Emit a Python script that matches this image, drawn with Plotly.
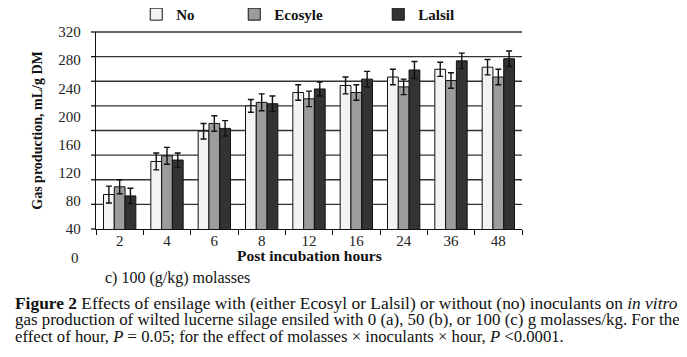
import plotly.graph_objects as go

hours = ["2", "4", "6", "8", "12", "16", "24", "36", "48"]
no_vals = [89, 136, 179, 215, 234, 244, 256, 267, 270]
no_err = [12, 12, 11, 9, 11, 12, 11, 10, 11]
eco_vals = [100, 144, 190, 220, 225, 234, 242, 251, 256]
eco_err = [10, 12, 11, 12, 11, 11, 11, 11, 11]
lal_vals = [87, 138, 183, 218, 239, 253, 266, 279, 282]
lal_err = [11, 10, 11, 11, 10, 11, 12, 11, 11]
series_names = ["No", "Ecosyle", "Lalsil"]
y_ticks = [40, 80, 120, 160, 200, 240, 280, 320]

FONT = "Liberation Serif"
OFF = 8  # page body margin of the browser
W, H = 687 - OFF, 357 - OFF
L, R, T, B = 95.7, 522.3, 31.7, 229.3   # plot area in reference pixels

def px(x):
    return (x - L) / (R - L)

def py(y):
    return (B - y) / (B - T)

colors = ["#f3f3f3", "#9c9c9c", "#333333"]
vals = [no_vals, eco_vals, lal_vals]
errs = [no_err, eco_err, lal_err]
lw = [53, 99, 60]

fig = go.Figure()
for name, v, e, c, w in zip(series_names, vals, errs, colors, lw):
    fig.add_trace(go.Bar(
        x=hours, y=v, name=name,
        marker=dict(color=c, line=dict(color="#111", width=1)),
        error_y=dict(type="data", array=e, visible=True, color="#111",
                     thickness=1.4, width=3),
        legendwidth=w,
    ))

# horizontal grid: 8 evenly spaced lines over the plot height, with left ticks
n_grid = 8
for k in range(n_grid + 1):
    f = k / n_grid
    if k > 0:
        fig.add_shape(type="line", xref="x domain", yref="y domain",
                      x0=0, x1=1, y0=f, y1=f, layer="below",
                      line=dict(color="#333", width=1.3))
    fig.add_shape(type="line", xref="x domain", yref="y domain",
                  x0=-5 / (R - L), x1=0, y0=f, y1=f, layer="above",
                  line=dict(color="#111", width=1.3))

fig.update_layout(
    width=W, height=H,
    margin=dict(l=L - OFF, r=687 - R, t=T - OFF, b=357 - B, autoexpand=False),
    paper_bgcolor="white", plot_bgcolor="white",
    font=dict(family=FONT, color="#111"),
    barmode="group", bargap=0.317, bargroupgap=0,
    showlegend=True,
    legend=dict(orientation="h", x=px(136), xanchor="left",
                y=py(-2.5), yanchor="top", bgcolor="rgba(0,0,0,0)",
                font=dict(family=FONT, size=15, color="#111", weight="bold"),
                itemwidth=30, traceorder="normal"),
    xaxis=dict(type="category", showline=True, linecolor="#111", linewidth=1.3,
               ticks="outside", tickson="boundaries", ticklen=5, tickcolor="#111",
               tickfont=dict(family=FONT, size=15, color="#222"),
               ticklabelstandoff=-2,
               showgrid=False),
    yaxis=dict(range=[40, 320], tickvals=y_ticks, showgrid=False,
               zeroline=False, showline=True, linecolor="#111", linewidth=1.3,
               ticks="", ticklabelstandoff=11, fixedrange=True,
               tickfont=dict(family=FONT, size=15, color="#222"),
               title=dict(text="<b>Gas production, mL/g DM</b>",
                          font=dict(family=FONT, size=14, color="#111"),
                          standoff=12)),
)

annos = [
    dict(text="<b>Post incubation hours</b>", x=0.5, y=py(256), xanchor="center",
         yanchor="middle", font=dict(size=15.5, color="#111")),
    dict(text="0", x=px(75), y=py(258), xanchor="center", yanchor="middle",
         font=dict(size=15, color="#222")),
    dict(text="c) 100 (g/kg) molasses", x=px(103), y=py(278), xanchor="left",
         yanchor="middle", font=dict(size=16, color="#111")),
    dict(text="<b>Figure 2</b> Effects of ensilage with (either Ecosyl or Lalsil) or without (no) inoculants on <i>in vitro</i>",
         x=px(12.7), y=py(303.3), xanchor="left", yanchor="middle",
         font=dict(size=17.4, color="#111")),
    dict(text="gas production of wilted lucerne silage ensiled with 0 (a), 50 (b), or 100 (c) g molasses/kg. For the",
         x=px(12.7), y=py(320), xanchor="left", yanchor="middle",
         font=dict(size=16.9, color="#111")),
    dict(text="effect of hour, <i>P</i> = 0.05; for the effect of molasses × inoculants × hour, <i>P</i> <0.0001.",
         x=px(12.7), y=py(336.7), xanchor="left", yanchor="middle",
         font=dict(size=16.7, color="#111")),
]
for a in annos:
    a["xref"] = "paper"
    a["yref"] = "paper"
    a["showarrow"] = False
    a["font"]["family"] = FONT
    fig.add_annotation(**a)

fig.write_html("out.html")
